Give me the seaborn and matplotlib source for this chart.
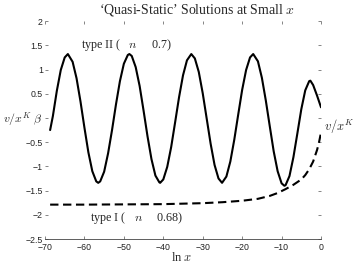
import matplotlib
matplotlib.use("Agg")
import matplotlib.pyplot as plt
import seaborn as sns

# ----------------------------------------
# Data
# ----------------------------------------

# type II solution (oscillating, solid)
type2_x = [-68.7, -68, -67, -66, -65, -64.2, -63, -62, -61, -60, -59, -58, -57, -56.5,
           -56, -55, -54, -53, -52, -51, -50, -49, -48.6, -48, -47, -46, -45, -44,
           -43, -42, -41, -40.8, -40, -39, -38, -37, -36, -35, -34, -32.9, -32, -31,
           -30, -29, -28, -27, -26, -25.1, -24, -23, -22, -21, -20, -19, -18, -17.2,
           -16, -15, -14, -13, -12, -11, -10, -9.3, -9, -8, -7, -6, -5, -4, -3, -2.7,
           -2, -1, -0.5, 0]
type2_y = [-0.25, 0.04, 0.56, 0.99, 1.25, 1.32, 1.16, 0.82, 0.34, -0.20, -0.71, -1.10, -1.31, -1.34,
           -1.31, -1.11, -0.73, -0.25, 0.28, 0.76, 1.12, 1.30, 1.32, 1.28, 1.05, 0.66, 0.15, -0.38,
           -0.85, -1.19, -1.33, -1.34, -1.27, -1.01, -0.60, -0.09, 0.43, 0.88, 1.19, 1.32, 1.23, 0.95,
           0.51, -0.01, -0.53, -0.97, -1.25, -1.34, -1.21, -0.90, -0.45, 0.07, 0.58, 0.99, 1.25, 1.32,
           1.17, 0.83, 0.36, -0.17, -0.69, -1.10, -1.35, -1.40, -1.39, -1.20, -0.81, -0.32, 0.18, 0.57, 0.76, 0.77,
           0.68, 0.46, 0.34, 0.22]

# type I solution (monotone, dashed)
type1_x = [-68.7, -60, -50, -40, -35, -30, -25, -20, -16, -13, -11, -9, -7, -5, -4, -3, -2, -1, -0.5, 0]
type1_y = [-1.79, -1.79, -1.785, -1.78, -1.77, -1.76, -1.74, -1.71, -1.67, -1.61, -1.55, -1.47,
           -1.38, -1.27, -1.18, -1.06, -0.90, -0.66, -0.50, -0.30]

x_ticks = [-70, -60, -50, -40, -30, -20, -10, 0]
x_tick_labels = ["\u221270", "\u221260", "\u221250", "\u221240", "\u221230", "\u221220", "\u221210", "0"]
y_ticks = [-2.5, -2, -1.5, -1, -0.5, 0, 0.5, 1, 1.5, 2]
y_tick_labels = ["\u22122.5", "\u22122", "\u22121.5", "\u22121", "\u22120.5", "", "0.5", "1", "1.5", "2"]

# ----------------------------------------
# Style
# ----------------------------------------

sns.set_style("ticks")
plt.rcParams["font.family"] = ["Liberation Sans", "DejaVu Sans"]
plt.rcParams["mathtext.fontset"] = "cm"

fig = plt.figure(figsize=(3.58, 2.70), dpi=100)
ax = fig.add_axes([0.1257, 0.1148, 0.771, 0.807])

sns.lineplot(x=type2_x, y=type2_y, ax=ax, color="black", linewidth=1.5,
             estimator=None, sort=False)
sns.lineplot(x=type1_x, y=type1_y, ax=ax, color="black", linewidth=1.5,
             estimator=None, sort=False, linestyle=(0, (4, 2.2)))

ax.set_xlim(-70, 0)
ax.set_ylim(-2.5, 2)
ax.set_xticks(x_ticks)
ax.set_xticklabels(x_tick_labels)
ax.set_yticks(y_ticks)
ax.set_yticklabels(y_tick_labels)

for s in ["left", "top", "right"]:
    ax.spines[s].set_visible(False)
ax.spines["bottom"].set_linewidth(0.6)
ax.spines["bottom"].set_color("#444444")
ax.tick_params(direction="in", length=2.5, width=0.5, colors="#555555",
               labelsize=6.3, labelcolor="#222222", pad=1.5,
               top=True, right=True, left=True, bottom=True)
ax.tick_params(axis="x", pad=3)

serif = ["Liberation Serif", "DejaVu Serif"]

# labels and annotations
fig.text(0.55, 0.963, "\u2018Quasi-Static\u2019 Solutions at Small $x$",
         ha="center", va="center", fontsize=10, family=serif)
fig.text(0.508, 0.045, r"ln $x$", ha="center", va="center", fontsize=9, family=serif)
ax.text(-70.8, -0.02, r"$v/x^{K}\ \beta$", ha="right", va="center", fontsize=8.5)
ax.text(0.8, -0.18, r"$v/x^{K}$", ha="left", va="center", fontsize=9)
ax.text(-60.8, 1.5, r"type II (   $n$     0.7)", ha="left", va="center", fontsize=8.7, family=serif)
ax.text(-58.6, -2.07, r"type I (   $n$     0.68)", ha="left", va="center", fontsize=8.7, family=serif)

fig.savefig("out.png", dpi=100)
plt.close(fig)
